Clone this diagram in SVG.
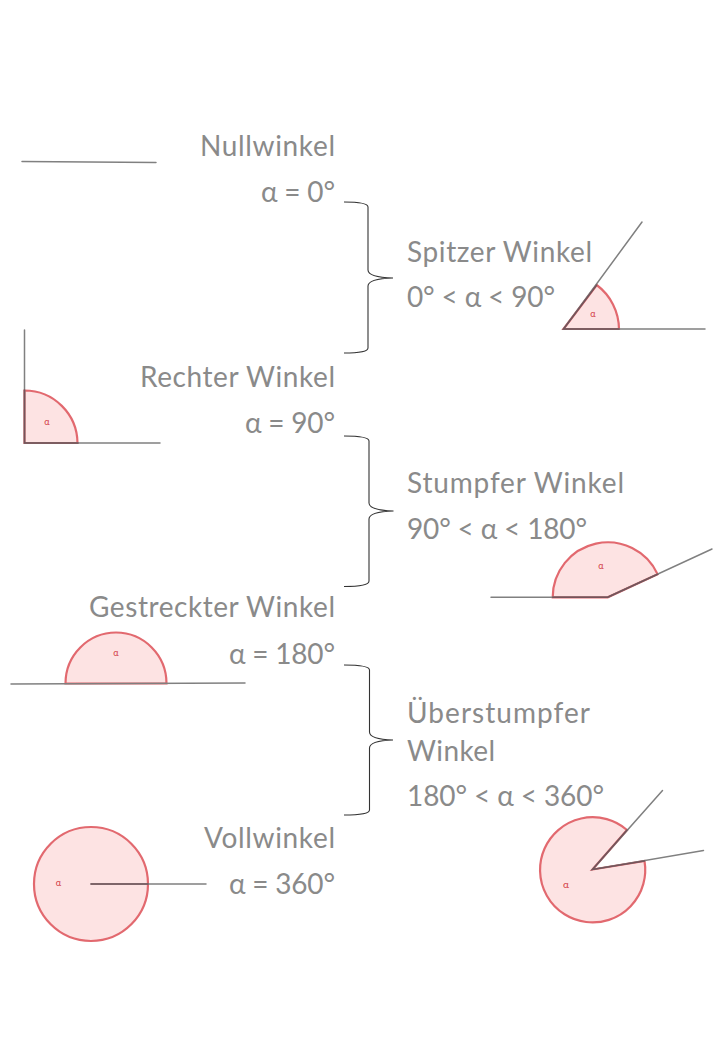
<svg xmlns="http://www.w3.org/2000/svg" width="720" height="1040" viewBox="0 0 720 1040">
<style>
.t{font-family:"Lato","Liberation Sans",sans-serif;font-size:28px;fill:#8a8a8a}
.r{text-anchor:end}
.s{fill:#fde3e3;stroke:#e2696f;stroke-width:2.200}
.e{fill:none;stroke:#808080;stroke-width:1.500;stroke-linecap:round}
.d{fill:none;stroke:#74545a;stroke-width:1.500;stroke-linecap:round}
.a{font-family:"Lato","Liberation Sans",sans-serif;font-size:9px;fill:#d23c44;text-anchor:middle}
.b{fill:none;stroke:#333;stroke-width:1.100}
</style>
<rect width="720" height="1040" fill="#fff"/>
<g id="connectors">
<path class="b" d="M344 202C356 202 368 202.500 368 207V270C368 275 378 277.500 393 278C378 278.500 368 281 368 286V348C368 352 356 353 344 353"/>
<path class="b" d="M344 436C356 436 369 436.500 369 441V503C369 508 379 510.500 393.500 511C379 511.500 369 514 369 519V581C369 585.500 356 586.500 344 586.500"/>
<path class="b" d="M344 665C356 665 369.500 665.500 369.500 670V732C369.500 737 379 739.500 393 740C379 740.500 369.500 743 369.500 748V810C369.500 814 356 815 344 815"/>
</g>
<g id="nullwinkel">
<line class="e" x1="22" y1="161.500" x2="156" y2="162.500"/>
<text class="t r" x="335" y="156" textLength="135">Nullwinkel</text>
<text class="t r" x="335" y="202" textLength="74">α = 0°</text>
</g>
<g id="rechter-winkel">
<path class="s" d="M24.500 443V390.500A53 53 0 0 1 77.500 443Z"/>
<path class="e" d="M24.500 330V443H160"/>
<path class="d" d="M24.500 390V443H78"/>
<text class="a" x="47" y="425">α</text>
<text class="t r" x="335" y="387" textLength="195">Rechter Winkel</text>
<text class="t r" x="335" y="433" textLength="90">α = 90°</text>
</g>
<g id="gestreckter-winkel">
<path class="s" d="M65.500 683.500A50.500 51 0 0 1 166.500 683.500Z"/>
<line class="e" x1="11" y1="684" x2="245" y2="683"/>
<text class="a" x="116" y="656">α</text>
<text class="t r" x="335" y="617" textLength="246">Gestreckter Winkel</text>
<text class="t r" x="335" y="664" textLength="106">α = 180°</text>
</g>
<g id="vollwinkel">
<circle class="s" cx="91" cy="884" r="57"/>
<line class="e" x1="91" y1="884" x2="206" y2="884"/>
<line class="d" x1="91" y1="884" x2="148" y2="884"/>
<text class="a" x="58.500" y="886">α</text>
<text class="t r" x="335" y="848" textLength="131">Vollwinkel</text>
<text class="t r" x="335" y="894" textLength="106">α = 360°</text>
</g>
<g id="spitzer-winkel">
<path class="s" d="M563.500 329H619A55.500 55.500 0 0 0 596.700 285Z"/>
<path class="e" d="M642 222L563.500 329H705"/>
<path class="d" d="M596.700 285L563.500 329H619"/>
<text class="a" x="593" y="317">α</text>
<text class="t" x="407" y="262" textLength="185">Spitzer Winkel</text>
<text class="t" x="407" y="307" textLength="148">0° &lt; α &lt; 90°</text>
</g>
<g id="stumpfer-winkel">
<path class="s" d="M552.700 597.300A55 55 0 0 1 657.600 574.200L607.700 597.300Z"/>
<path class="e" d="M491 597.300H607.700L712 549"/>
<path class="d" d="M552.700 597.300H607.700L657.600 574.200"/>
<text class="a" x="601" y="569">α</text>
<text class="t" x="407" y="493" textLength="217">Stumpfer Winkel</text>
<text class="t" x="407" y="539" textLength="180">90° &lt; α &lt; 180°</text>
</g>
<g id="ueberstumpfer-winkel">
<path class="s" d="M592.500 869.500L644.500 861A52.600 52.600 0 1 1 627 830Z"/>
<path class="e" d="M662.500 790.500L592.500 869.500L703.500 850.500"/>
<path class="d" d="M627 830L592.500 869.500L644.500 861"/>
<text class="a" x="566" y="888" style="font-size:10px">α</text>
<text class="t" x="407" y="723" textLength="183">Überstumpfer</text>
<text class="t" x="407" y="761" textLength="88">Winkel</text>
<text class="t" x="407" y="806" textLength="197">180° &lt; α &lt; 360°</text>
</g>
</svg>
